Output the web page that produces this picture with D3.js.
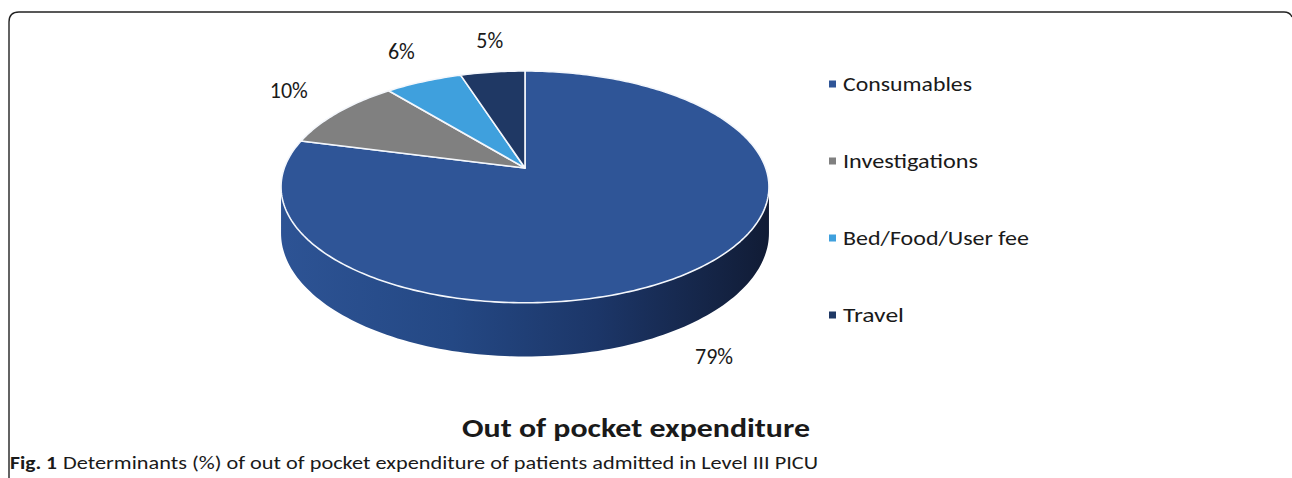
<!DOCTYPE html>
<html>
<head>
<meta charset="utf-8">
<script src="https://cdn.jsdelivr.net/npm/d3@7"></script>
<style>
  body { margin: 0; background: #fff; }
  svg { display: block; }
  text { font-family: Carlito, "Open Sans", "Noto Sans", sans-serif; fill: #1a1a1a; }
</style>
</head>
<body>
<script>
// Chart data
var categories = ["Consumables", "Investigations", "Bed/Food/User fee", "Travel"];
var values = [79, 10, 6, 5];
var valueLabels = ["79%", "10%", "6%", "5%"];
var colors = ["#2f5597", "#808080", "#3fa0dd", "#1f3864"];
var title = "Out of pocket expenditure";
var captionBold = "Fig. 1";
var captionText = "Determinants (%) of out of pocket expenditure of patients admitted in Level III PICU";

var width = 1292,
    height = 478;

// 3D pie geometry (perspective disc)
var cx = 525, cy = 168,   // projected centre of the disc
    R = 240.7,            // radius
    S = 112.8,            // R * sin(elevation)
    k = 0.163,            // perspective strength
    T = 45;               // side thickness

function proj(phi, r) {
    var d = 1 + k * r * Math.cos(phi);
    return [cx + r * R * Math.sin(phi) / d, cy - r * S * Math.cos(phi) / d];
}
function drop(phi) {
    return T / (1 + k * Math.cos(phi));
}

var color = d3.scaleOrdinal().domain(categories).range(colors);

var svg = d3.select("body")
    .append("svg")
    .attr("width", width)
    .attr("height", height);

// frame
svg.append("path")
    .attr("d", "M9,478 V22 Q9,12 19,12 H1284 Q1290,12 1292,17")
    .attr("fill", "none")
    .attr("stroke", "#222")
    .attr("stroke-width", 1.4);

var defs = svg.append("defs");
var grad = defs.append("linearGradient")
    .attr("id", "side")
    .attr("gradientUnits", "userSpaceOnUse")
    .attr("x1", cx - R).attr("x2", cx + R).attr("y1", 0).attr("y2", 0);
grad.append("stop").attr("offset", "0%").attr("stop-color", "#2d5394");
grad.append("stop").attr("offset", "35%").attr("stop-color", "#244884");
grad.append("stop").attr("offset", "65%").attr("stop-color", "#1c3668");
grad.append("stop").attr("offset", "100%").attr("stop-color", "#111c36");

var pie = d3.pie().sort(null).value(function(d) { return d; });
var arcs = pie(values);

var line = d3.line();

// side wall (front half of the disc)
var phiR = Math.acos(-k), phiL = 2 * Math.PI - phiR;
var steps = d3.range(0, 121).map(function(i) { return phiR + (phiL - phiR) * i / 120; });
var rimTop = steps.map(function(p) { return proj(p, 1); });
var rimBottom = steps.slice().reverse().map(function(p) {
    var q = proj(p, 1);
    return [q[0], q[1] + drop(p)];
});
svg.append("path")
    .attr("d", line(rimTop.concat(rimBottom)) + "Z")
    .attr("fill", "url(#side)");

// top slices
svg.selectAll(".slice")
    .data(arcs)
    .enter()
    .append("path")
    .attr("class", "slice")
    .attr("d", function(d) {
        var n = Math.max(4, Math.ceil((d.endAngle - d.startAngle) * 60));
        var pts = [[cx, cy]];
        for (var i = 0; i <= n; i++) {
            pts.push(proj(d.startAngle + (d.endAngle - d.startAngle) * i / n, 1));
        }
        return line(pts) + "Z";
    })
    .attr("fill", function(d, i) { return color(categories[i]); })
    .attr("stroke", "#f4f7fc")
    .attr("stroke-width", 1.6)
    .attr("stroke-linejoin", "round");

// data labels
svg.selectAll(".lbl")
    .data(arcs)
    .enter()
    .append("text")
    .attr("class", "lbl")
    .attr("transform", function(d) {
        var mid = (d.startAngle + d.endAngle) / 2;
        var front = Math.cos(mid) < 0;
        var p = proj(mid, front ? 1.1 : 1.33);
        if (front) p[1] += drop(mid) + 22;
        else { p[0] += 6; p[1] -= 6; }
        return "translate(" + p[0] + "," + p[1] + ")";
    })
    .attr("text-anchor", "middle")
    .attr("dy", "0.35em")
    .style("font-size", "22px")
    .text(function(d, i) { return valueLabels[i]; });

// legend
var ly = d3.scalePoint().domain(categories).range([84, 315]);
var legend = svg.selectAll(".legend")
    .data(categories)
    .enter()
    .append("g")
    .attr("class", "legend")
    .attr("transform", function(d) { return "translate(829," + ly(d) + ")"; });
legend.append("rect")
    .attr("x", 0).attr("y", -3.5)
    .attr("width", 7).attr("height", 7)
    .attr("fill", function(d) { return color(d); });
var legendWidths = [129, 135, 186, 61];
legend.append("text")
    .attr("x", 14)
    .attr("dy", "0.35em")
    .style("font-size", "20px")
    .attr("textLength", function(d, i) { return legendWidths[i]; })
    .attr("lengthAdjust", "spacingAndGlyphs")
    .text(function(d) { return d; });

// chart title
svg.append("text")
    .attr("x", 636).attr("y", 437)
    .attr("text-anchor", "middle")
    .style("font-size", "27px")
    .style("font-weight", "bold")
    .attr("textLength", 348)
    .attr("lengthAdjust", "spacingAndGlyphs")
    .text(title);

// figure caption
svg.append("text")
    .attr("x", 10).attr("y", 469)
    .style("font-size", "18.5px")
    .style("font-weight", "bold")
    .attr("textLength", 47)
    .attr("lengthAdjust", "spacingAndGlyphs")
    .text(captionBold);
svg.append("text")
    .attr("x", 63).attr("y", 469)
    .style("font-size", "18.5px")
    .attr("textLength", 755)
    .attr("lengthAdjust", "spacingAndGlyphs")
    .text(captionText);
</script>
</body>
</html>
